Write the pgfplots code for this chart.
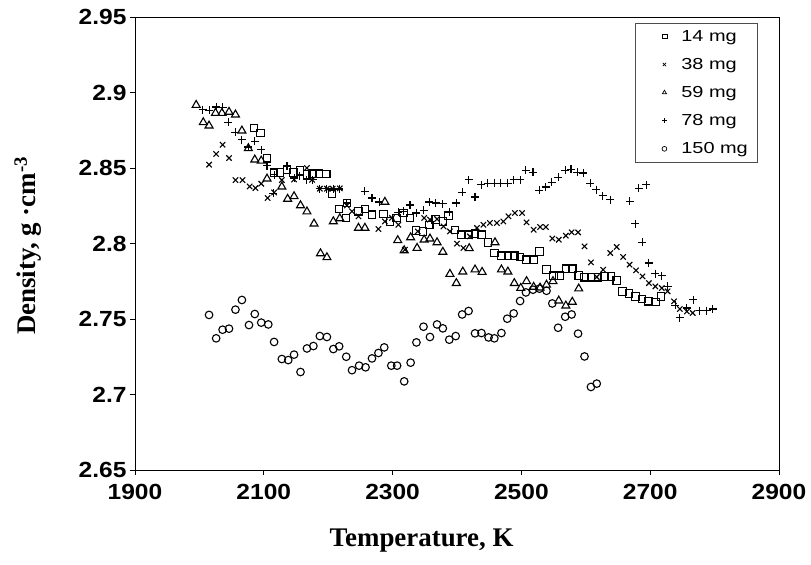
\documentclass[border=0pt]{standalone}
\usepackage{fontspec}
\setmainfont{Liberation Serif}
\setsansfont{Liberation Sans}
\newfontfamily\ticksfont{Liberation Sans}[FakeStretch=1.12]
\newfontfamily\legfont{Liberation Sans}[FakeStretch=1.25]
\usepackage{pgfplots}
\pgfplotsset{compat=1.18}
\begin{document}
\begin{tikzpicture}
\useasboundingbox (-135bp,-95bp) rectangle (676bp,470bp);
\begin{axis}[
  scale only axis, width=644bp, height=453bp,
  xmin=1900, xmax=2900, ymin=2.65, ymax=2.95,
  xtick={1900,2100,2300,2500,2700,2900},
  ytick={2.65,2.7,2.75,2.8,2.85,2.9,2.95},
  tick align=outside, xtick pos=bottom, ytick pos=left,
  major tick length=5bp,
  axis line style={line width=0.8bp, black},
  tick style={line width=0.8bp, black},
  ticklabel style={font=\ticksfont\bfseries\fontsize{22}{26}\selectfont},
  /pgf/number format/assume math mode=true,
  /pgf/number format/1000 sep={},
  yticklabel style={/pgf/number format/fixed, /pgf/number format/precision=2},
  xticklabel style={yshift=-6bp},
  scaled ticks=false,
  xlabel={Temperature, K},
  ylabel={Density, g ·cm\textsuperscript{-3}},
  label style={font=\bfseries\fontsize{27}{30}\selectfont},
  xlabel style={at={(axis description cs:0.445,-0.155)}, anchor=center},
  ylabel style={at={(axis description cs:-0.166,0.495)}, anchor=center},
  every axis plot/.append style={only marks, black, line width=1.1bp},
  legend image code/.code={%
    \path[draw=none, fill=none] (-13.5bp,0bp) -- (8.5bp,0bp);
    \draw[mark repeat=2,mark phase=2,#1,only marks] plot coordinates {(0cm,0cm) (0.3cm,0cm) (0.6cm,0cm)};},
  legend style={at={(rel axis cs:0.966,0.987)}, anchor=north east,
    draw=black!70, line width=0.6bp,
    font=\legfont\fontsize{16}{18}\selectfont,
    inner xsep=7bp, inner ysep=5bp, row sep=11.5bp, column sep=12.5bp,
    nodes={inner sep=2bp}},
  legend cell align=left,
  legend image post style={mark size=2.4bp, line width=0.7bp},
]
\addplot[mark=square, mark size=3.7bp] table {
x y
2085 2.8765
2095 2.8732
2105 2.8564
2116 2.8469
2125 2.8471
2136 2.8489
2146 2.8471
2156 2.8484
2167 2.8456
2176 2.8462
2186 2.8462
2197 2.8460
2206 2.8330
2217 2.8228
2228 2.8169
2229 2.8267
2247 2.8213
2257 2.8229
2268 2.8191
2286 2.8195
2296 2.8146
2306 2.8169
2317 2.8202
2327 2.8169
2336 2.8087
2347 2.8080
2357 2.8124
2367 2.8158
2378 2.8146
2387 2.8186
2397 2.8091
2407 2.8058
2418 2.8058
2428 2.8065
2438 2.8058
2448 2.8007
2458 2.7937
2469 2.7919
2479 2.7919
2489 2.7919
2498 2.7911
2508 2.7893
2519 2.7893
2528 2.7948
2539 2.7827
2550 2.7787
2559 2.7787
2569 2.7833
2579 2.7833
2589 2.7789
2598 2.7776
2608 2.7776
2619 2.7776
2629 2.7782
2639 2.7782
2648 2.7754
2657 2.7683
2667 2.7668
2677 2.7650
2687 2.7632
2697 2.7617
2708 2.7613
2717 2.7650
};
\addlegendentry{14 mg}
\addplot[mark=x, mark size=3.8bp] table {
x y
2015 2.8522
2026 2.8593
2036 2.8654
2046 2.8566
2056 2.8420
2067 2.8420
2078 2.8378
2087 2.8367
2096 2.8396
2106 2.8301
2116 2.8338
2128 2.8420
2147 2.8424
2167 2.8500
2175 2.8422
2187 2.8363
2198 2.8363
2207 2.8363
2218 2.8365
2229 2.8252
2237 2.8213
2247 2.8180
2278 2.8096
2288 2.8146
2299 2.8169
2309 2.8124
2319 2.7959
2339 2.8080
2349 2.8169
2358 2.8158
2369 2.8162
2379 2.8113
2389 2.8080
2400 2.7999
2410 2.7970
2420 2.8047
2431 2.8103
2441 2.8124
2451 2.8136
2462 2.8136
2472 2.8146
2480 2.8180
2490 2.8202
2501 2.8202
2508 2.8140
2519 2.8091
2529 2.8109
2538 2.8109
2548 2.8033
2558 2.8025
2569 2.8052
2578 2.8074
2588 2.8074
2598 2.7981
2608 2.7875
2617 2.7778
2627 2.7826
2638 2.7937
2648 2.7977
2658 2.7911
2668 2.7860
2678 2.7822
2688 2.7782
2698 2.7738
2708 2.7716
2718 2.7705
2727 2.7683
2737 2.7617
2746 2.7566
2757 2.7550
2766 2.7540
};
\addlegendentry{38 mg}
\addplot[mark=triangle, mark size=4.6bp] table {
x y
1995 2.8917
2006 2.8802
2015 2.8780
2025 2.8864
2035 2.8864
2046 2.8871
2056 2.8853
2066 2.8747
2076 2.8630
2086 2.8555
2096 2.8548
2105 2.8429
2128 2.8376
2137 2.8295
2147 2.8312
2157 2.8252
2167 2.8211
2178 2.8131
2188 2.7934
2198 2.7908
2208 2.8146
2218 2.8166
2247 2.8103
2257 2.8103
2288 2.8275
2308 2.8021
2318 2.7954
2328 2.8040
2338 2.7970
2349 2.8025
2358 2.8032
2369 2.8007
2378 2.7944
2389 2.7798
2399 2.7737
2409 2.7813
2419 2.7968
2428 2.7827
2439 2.7811
2459 2.8007
2469 2.7827
2479 2.7813
2489 2.7737
2499 2.7705
2508 2.7750
2519 2.7712
2529 2.7707
2539 2.7726
2549 2.7750
2558 2.7621
2569 2.7588
2579 2.7613
2589 2.7701
};
\addlegendentry{59 mg}
\addplot[mark=+, mark size=4bp] table {
x y
2005 2.8886
2015 2.8881
2026 2.8904
2036 2.8901
2045 2.8802
2056 2.8736
2066 2.8687
2076 2.8639
2086 2.8676
2096 2.8621
2105 2.8515
2116 2.8456
2115 2.8334
2136 2.8511
2147 2.8434
2156 2.8449
2167 2.8422
2176 2.8422
2187 2.8364
2198 2.8364
2208 2.8364
2217 2.8361
2229 2.8268
2257 2.8345
2268 2.8301
2279 2.8275
2309 2.8206
2317 2.8213
2327 2.8255
2337 2.8202
2348 2.8219
2357 2.8275
2367 2.8268
2378 2.8262
2388 2.8206
2399 2.8268
2408 2.8338
2418 2.8422
2428 2.8308
2438 2.8389
2448 2.8400
2458 2.8400
2468 2.8400
2479 2.8400
2488 2.8422
2498 2.8422
2507 2.8484
2518 2.8471
2528 2.8352
2538 2.8374
2547 2.8405
2557 2.8440
2568 2.8484
2577 2.8493
2587 2.8471
2596 2.8467
2607 2.8400
2616 2.8356
2626 2.8317
2638 2.8290
2668 2.8279
2682 2.8367
2694 2.8389
2677 2.8131
2688 2.8007
2698 2.7871
2708 2.7800
2718 2.7787
2727 2.7716
2739 2.7590
2746 2.7509
2757 2.7573
2767 2.7628
2777 2.7555
2788 2.7555
2797 2.7566
};
\addlegendentry{78 mg}
\addplot[mark=o, mark size=3.8bp] table {
x y
2015 2.7527
2026 2.7372
2036 2.7429
2046 2.7436
2056 2.7562
2066 2.7626
2077 2.7460
2086 2.7533
2096 2.7476
2107 2.7464
2116 2.7348
2128 2.7235
2138 2.7228
2147 2.7264
2157 2.7149
2167 2.7305
2177 2.7321
2187 2.7387
2198 2.7381
2208 2.7301
2217 2.7319
2228 2.7250
2237 2.7161
2248 2.7191
2258 2.7180
2268 2.7239
2278 2.7275
2287 2.7312
2298 2.7191
2307 2.7191
2318 2.7087
2328 2.7211
2337 2.7345
2348 2.7449
2358 2.7381
2369 2.7464
2378 2.7438
2388 2.7363
2398 2.7387
2408 2.7530
2418 2.7553
2428 2.7405
2438 2.7407
2449 2.7378
2458 2.7372
2469 2.7407
2478 2.7502
2488 2.7537
2498 2.7619
2507 2.7676
2518 2.7694
2528 2.7701
2539 2.7687
2548 2.7603
2557 2.7442
2568 2.7515
2578 2.7530
2588 2.7403
2598 2.7252
2608 2.7050
2617 2.7072
};
\addlegendentry{150 mg}
\end{axis}
\end{tikzpicture}
\end{document}
